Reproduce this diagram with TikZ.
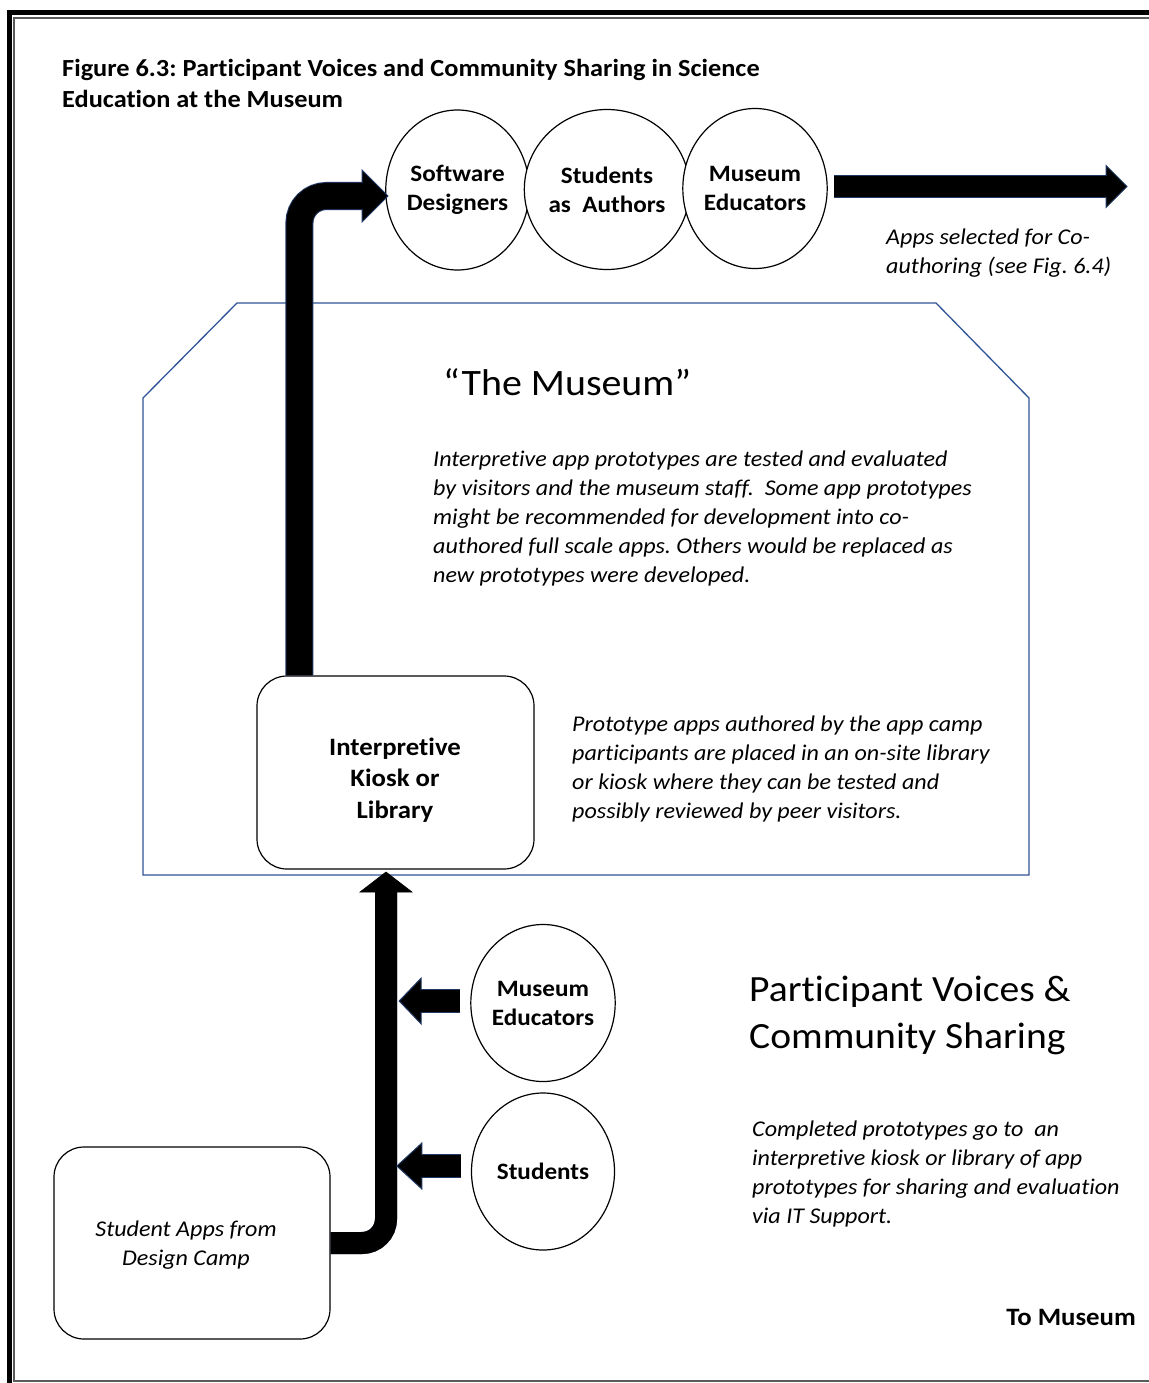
\documentclass[tikz,border=0pt]{standalone}
\usepackage{fontspec}
\setmainfont{Carlito}[FakeStretch=1.07, Ligatures=NoCommon]
\usetikzlibrary{calc,shapes.geometric}
\definecolor{mblue}{RGB}{47,84,150}
\definecolor{aoutline}{RGB}{31,56,100}
\definecolor{framegray}{RGB}{90,90,90}
\begin{document}
\frenchspacing
\begin{tikzpicture}[x=1pt,y=-1pt,
  circ/.style={ellipse, draw, line width=1.2pt, fill=white, minimum width=142pt, minimum height=160pt, inner sep=0pt, align=center, font=\fontsize{23.5}{29}\selectfont\bfseries},
  rbox/.style={rectangle, rounded corners=30pt, draw, line width=1.2pt, fill=white, inner sep=0pt},
  itext/.style={anchor=north west, inner sep=0pt, align=left, font=\fontsize{22.5}{29}\selectfont\itshape},
  shaft/.style 2 args={draw=black, line width=#1, preaction={draw=aoutline, line width=#2}},
  head/.style={fill=black, draw=aoutline, line width=1pt, line join=miter},
  bhead/.style={fill=black, draw=black, line width=0.6pt, line join=miter},
]
\fill[white] (0,0) rectangle (1148,1383);
\useasboundingbox (0,0) rectangle (1148,1383);

% frame
\draw[line width=5pt, line join=miter] (9.2,1390) -- (9.2,12.5) -- (1160,12.5);
\draw[framegray, line width=1.8pt, line join=miter] (1160,1381) -- (14.2,1381) -- (14.2,17.8) -- (1160,17.8);

% museum outline
\draw[mblue, line width=1.3pt, line join=miter] (143,398) -- (237,303) -- (936,303) -- (1029,398) -- (1029,875) -- (143,875) -- cycle;

% title
\node[anchor=north west, inner sep=0pt, align=left, font=\fontsize{24.6}{31}\selectfont\bfseries] (title) at (62,59)
  {Figure 6.3: Participant Voices and Community Sharing in Science\\Education at the Museum};

% top circles
\node[circ] (sd) at (457.5,190) {Software\\Designers};
\node[circ] (sa) at (607,189.5) {Students\\as~~Authors};
\node[circ] (meT) at (755,188.5) {Museum\\Educators};

\node[itext] (sel) at (886,229) {Apps selected for Co-\\authoring (see Fig. 6.4)};

% museum texts
\node[anchor=north west, inner sep=0pt, font=\fontsize{37.3}{46}\selectfont] (mus) at (443,368) {“The Museum”};
\node[itext] (p1) at (433,451) {Interpretive app prototypes are tested and evaluated\\by visitors and the museum staff.\ \ Some app prototypes\\might be recommended for development into co-\\authored full scale apps. Others would be replaced as\\new prototypes were developed.};

% kiosk
\node[rbox, minimum width=277pt, minimum height=193pt] (kiosk) at (395.5,772.5) {};
\node[inner sep=0pt, align=center, font=\fontsize{25}{31.5}\selectfont\bfseries] (kiosktxt) at (395,780) {Interpretive\\Kiosk or\\Library};
\node[itext] (p2) at (572,715.5) {Prototype apps authored by the app camp\\participants are placed in an on-site library\\or kiosk where they can be tested and\\possibly reviewed by peer visitors.};

% bottom circles
\node[circ, minimum width=143pt, minimum height=157pt] (meB) at (543,1003) {Museum\\Educators};
\node[circ, minimum width=143pt, minimum height=157pt] (st) at (543,1171.5) {Students};

% student apps box
\node[rbox, minimum width=276pt, minimum height=192pt] (apps) at (192,1243) {};
\node[inner sep=0pt, align=center, font=\fontsize{22.5}{29}\selectfont\itshape] (appstxt) at (186,1245) {Student Apps from\\Design Camp};

% right texts
\node[anchor=north west, inner sep=0pt, align=left, font=\fontsize{37}{47}\selectfont] (pv) at (749,976) {Participant Voices \&\\Community Sharing};
\node[itext] (p3) at (752,1121) {Completed prototypes go to\ \ an\\interpretive kiosk or library of app\\prototypes for sharing and evaluation\\via IT Support.};
\node[anchor=base east, inner sep=0pt, font=\fontsize{25}{30}\selectfont\bfseries] (tm) at (1136,1325) {To Museum};

% arrow: kiosk -> software designers
\coordinate (a1s) at ($(kiosk.north west)+(43,0)$);
\coordinate (a1t) at (388,196);
\coordinate (a1b) at ($(a1t)+(-26,0)$);
\draw[shaft={26pt}{28pt}, rounded corners=27pt] (a1s) |- (a1b);
\filldraw[head] ($(a1b)+(0,-13)$) -- ($(a1b)+(0,-26)$) -- (a1t) -- ($(a1b)+(0,26)$) -- ($(a1b)+(0,13)$);

% arrow: student apps -> kiosk
\coordinate (a2t) at (386,872);
\coordinate (a2b) at ($(a2t)+(0,20)$);
\draw[shaft={22pt}{22pt}, rounded corners=24pt] (apps.east) -| (a2b);
\filldraw[bhead] ($(a2b)+(-11,0)$) -- ($(a2b)+(-26,0)$) -- (a2t) -- ($(a2b)+(26,0)$) -- ($(a2b)+(11,0)$);

% arrow: museum educators -> stream
\coordinate (a3s) at ($(meB.west)+(-10,-2)$);
\coordinate (a3t) at ($(a3s)+(-61,0)$);
\coordinate (a3b) at ($(a3t)+(22,0)$);
\draw[shaft={22pt}{24pt}] (a3s) -- (a3b);
\filldraw[head] ($(a3b)+(0,-11)$) -- ($(a3b)+(0,-23)$) -- (a3t) -- ($(a3b)+(0,23)$) -- ($(a3b)+(0,11)$);

% arrow: students -> stream
\coordinate (a4s) at ($(st.west)+(-10,-5.5)$);
\coordinate (a4t) at ($(a4s)+(-64,0)$);
\coordinate (a4b) at ($(a4t)+(25,0)$);
\draw[shaft={22pt}{24pt}] (a4s) -- (a4b);
\filldraw[head] ($(a4b)+(0,-11)$) -- ($(a4b)+(0,-23)$) -- (a4t) -- ($(a4b)+(0,23)$) -- ($(a4b)+(0,11)$);

% arrow: museum educators (top) -> co-authoring
\coordinate (a5s) at ($(meT.east)+(6,-2)$);
\coordinate (a5t) at (1127,186.5);
\coordinate (a5b) at ($(a5t)+(-21,0)$);
\draw[shaft={21pt}{23pt}] (a5s) -- (a5b);
\filldraw[head] ($(a5b)+(0,-10.5)$) -- ($(a5b)+(0,-21)$) -- (a5t) -- ($(a5b)+(0,21)$) -- ($(a5b)+(0,10.5)$);
\end{tikzpicture}
\end{document}
